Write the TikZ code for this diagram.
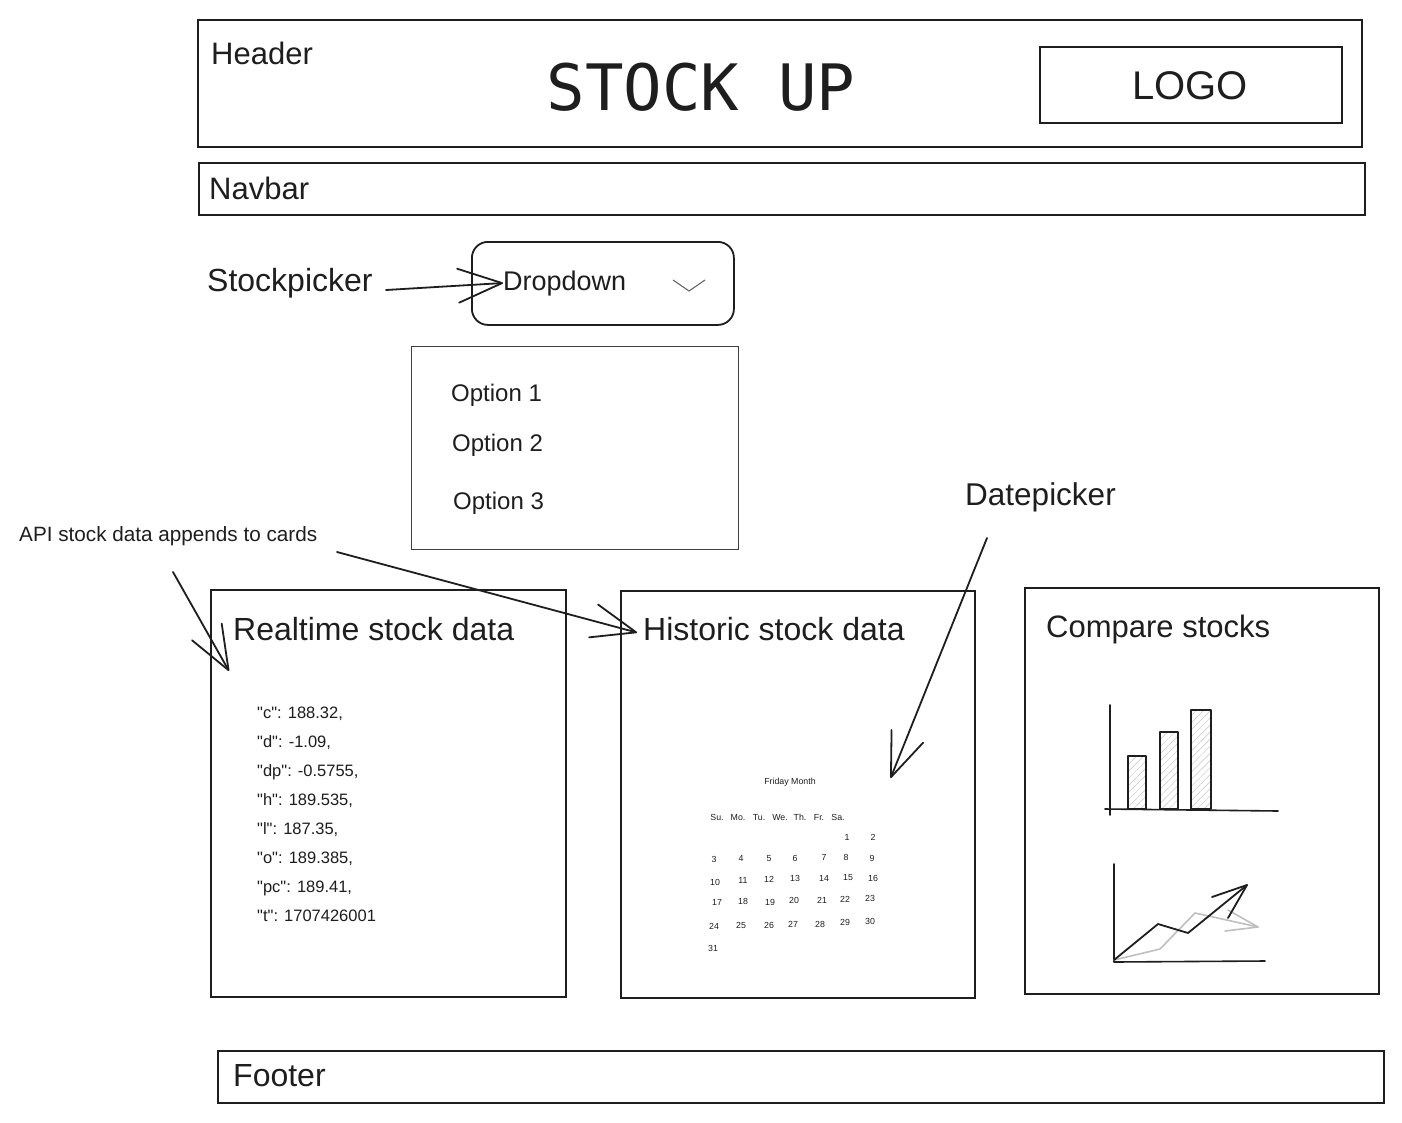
\documentclass[tikz,border=0pt]{standalone}
\usepackage{fontspec}
\setmainfont{Liberation Sans}
% plain family: keeps ASCII double quotes straight
\newfontfamily\plainfont{Liberation Sans}
\newfontfamily\monofont{DejaVu Sans Mono}
\usetikzlibrary{arrows.meta,calc,patterns.meta}
\definecolor{ink}{HTML}{1E1E1E}
\newcommand{\fsz}[1]{\fontsize{#1}{#1}\selectfont}

\begin{document}
\begin{tikzpicture}[x=1pt,y=-1pt,
  frame/.style={draw=ink, line width=1.8pt, anchor=north west, inner sep=0pt},
  lbl/.style={text=ink, inner sep=0pt, anchor=base west},
  harrow/.style={draw=ink, line width=1.8pt, line cap=round,
    -{Straight Barb[length=44pt,width=34pt,line width=1.8pt,round]}},
  cal/.style={text=ink, inner sep=0pt, anchor=base, font=\fsz{8.8}},
  json/.style={text=ink, inner sep=0pt, anchor=base west, font=\plainfont\fsz{16.5}},
  chart/.style={draw=ink, line width=1.6pt, line cap=round, line join=round},
  bar/.style={chart, pattern={Lines[angle=45,distance=5pt,line width=0.5pt]}, pattern color=gray!45}
]
\useasboundingbox[fill=white] (0,0) rectangle (1402,1122);

% header strip
\node[frame, minimum width=1164pt, minimum height=127pt] (header) at (197,19) {};
\node[lbl, font=\fsz{31}] (headertxt) at (211,64) {Header};
\node[text=ink, inner sep=0pt, anchor=base, font=\monofont\fsz{64}] (title) at (701,110) {STOCK UP};
\node[frame, minimum width=302pt, minimum height=76pt] (logo) at (1039,46) {};
\node[text=ink, inner sep=0pt, font=\fsz{40}] (logotxt) at (1190,86) {LOGO};

% navigation bar
\node[frame, minimum width=1166pt, minimum height=52pt] (navbar) at (198,162) {};
\node[lbl, font=\fsz{31}] (navtxt) at (209,199) {Navbar};

% stock picker
\node[lbl, font=\fsz{32}] (picker) at (207,291) {Stockpicker};
\node[frame, rounded corners=16pt, minimum width=262pt, minimum height=83pt] (dropdown) at (471,241) {};
\node[lbl, font=\fsz{27}] (ddtxt) at (503,290) {Dropdown};
\draw[gray!80!black, line width=1.1pt] (673,280) -- (689,291) -- (705,280);
\coordinate (pickstart) at (386,290);
\draw[harrow] (pickstart) -- (ddtxt.west);

% option list
\node[frame, draw=ink!85, line width=1.3pt, minimum width=327pt, minimum height=203pt] (options) at (411,346) {};
\node[lbl, font=\fsz{24}] (opt1) at (451,401) {Option 1};
\node[lbl, font=\fsz{24}] (opt2) at (452,451) {Option 2};
\node[lbl, font=\fsz{24}] (opt3) at (453,509) {Option 3};

% notes
\node[lbl, font=\fsz{31.5}] (datenote) at (965,505) {Datepicker};
\node[lbl, font=\fsz{20.7}] (apinote) at (19,541) {API stock data appends to cards};

% cards
\node[frame, line width=1.6pt, minimum width=355pt, minimum height=407pt] (realtime) at (210,589) {};
\node[lbl, font=\fsz{32}] (realtxt) at (233,640) {Realtime stock data};
\node[frame, line width=1.6pt, minimum width=354pt, minimum height=407pt] (historic) at (620,590) {};
\node[lbl, font=\fsz{32}] (histtxt) at (643,640) {Historic stock data};
\node[frame, line width=1.6pt, minimum width=354pt, minimum height=406pt] (compare) at (1024,587) {};
\node[lbl, font=\fsz{31}] (comptxt) at (1046,637) {Compare stocks};

% realtime quote fields
\foreach \txt [count=\i] in {{"c": 188.32,},{"d": -1.09,},{"dp": -0.5755,},{"h": 189.535,},{"l": 187.35,},{"o": 189.385,},{"pc": 189.41,},{"t": 1707426001}}
  \node[json] (field\i) at (257,{718+29*(\i-1)}) {\txt};

% calendar
\node[cal] (month) at (790,784) {Friday Month};
\foreach \dayname/\x [count=\i] in {Su./717,Mo./738,Tu./759,We./780,Th./800,Fr./819,Sa./838}
  \node[cal] (wkday\i) at (\x,820) {\dayname};
\foreach \d/\x/\y in {1/847/837,2/873/837,
  3/714/859,4/741/858,5/769/858,6/795/858,7/824/857,8/846/857,9/872/858,
  10/715/882,11/743/880,12/769/879,13/795/878,14/824/878,15/848/877,16/873/878,
  17/717/902,18/743/901,19/770/902,20/794/900,21/822/900,22/845/899,23/870/898,
  24/714/926,25/741/925,26/769/925,27/793/924,28/820/924,29/845/922,30/870/921,
  31/713/948}
  \node[cal] (day\d) at (\x,\y+3) {\d};

% bar chart
\draw[chart] (1110,705) -- (1110,815);
\draw[bar] (1128,756) rectangle (1146,809);
\draw[bar] (1160,732) rectangle (1178,809);
\draw[bar] (1191,710) rectangle (1211,809);
\draw[chart] (1105,809) -- (1278,811);

% trend chart
\draw[chart] (1114,864) -- (1114,962) -- (1265,961);
\draw[chart, draw=gray!50] (1114,960) -- (1160,949) -- (1195,913) -- (1258,927);
\draw[chart, draw=gray!50] (1228,910) -- (1258,927) -- (1225,931);
\draw[chart, line width=1.8pt] (1114,960) -- (1158,924) -- (1188,933) -- (1247,885);
\draw[chart, line width=1.8pt] (1212,897) -- (1247,885) -- (1228,918);

% annotation arrows
\coordinate (apistartA) at (173,572);
\coordinate (apistartB) at (337,552);
\coordinate (datestart) at (987,538);
\draw[harrow] (apistartA) -- ($(realtime.north west)+(19,82)$);
\draw[harrow] (apistartB) -- ($(histtxt.west)+(-6,4)$);
\draw[harrow] (datestart) -- ($(historic.north east)+(-85,188)$);

% footer strip
\node[frame, minimum width=1166pt, minimum height=52pt] (footer) at (217,1050) {};
\node[lbl, font=\fsz{32}] (foottxt) at (233,1086) {Footer};
\end{tikzpicture}
\end{document}
